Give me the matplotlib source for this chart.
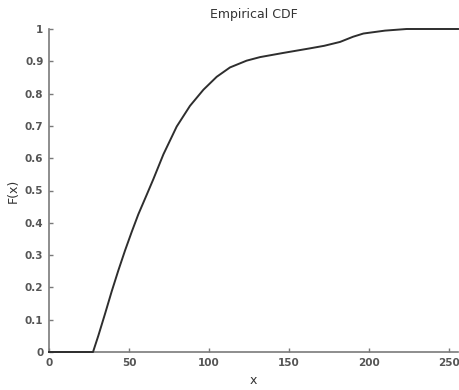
import numpy as np
import matplotlib
matplotlib.use('Agg')
import matplotlib.pyplot as plt

# points
x_vals = [0, 27.5, 30.8, 35.0, 39.2, 43.3, 47.5, 51.7, 55.8, 61.0, 65.2,
          71.5, 79.8, 88.1, 96.5, 104.8, 113.1, 123.5, 131.9, 146.5, 163.0,
          172.0, 181.9, 190.0, 196.5, 210.0, 223.5, 255.6]
f_vals = [0, 0.0, 0.050, 0.118, 0.188, 0.252, 0.314, 0.372, 0.426, 0.486, 0.535,
          0.612, 0.698, 0.762, 0.812, 0.852, 0.881, 0.902, 0.913, 0.926, 0.940,
          0.948, 0.960, 0.976, 0.986, 0.995, 1.0, 1.0]

x_ticks = [0, 50, 100, 150, 200, 250]
y_ticks = [0, 0.1, 0.2, 0.3, 0.4, 0.5, 0.6, 0.7, 0.8, 0.9, 1]
y_labels = ['0', '0.1', '0.2', '0.3', '0.4', '0.5', '0.6', '0.7', '0.8', '0.9', '1']

fig = plt.figure(figsize=(4.59, 3.9), dpi=100)
ax = fig.add_axes([49 / 459, 38 / 390, 409 / 459, 323 / 390])

ax.plot(x_vals, f_vals, color='#2e2e2e', linewidth=1.4, clip_on=False, zorder=3,
        solid_joinstyle='round')

ax.set_xlim(0, 255.6)
ax.set_ylim(0, 1)

for s in ['top', 'right']:
    ax.spines[s].set_visible(False)
for s in ['left', 'bottom']:
    ax.spines[s].set_color('#7a7a7a')
    ax.spines[s].set_linewidth(1.2)

ax.set_xticks(x_ticks)
ax.set_yticks(y_ticks)
ax.set_yticklabels(y_labels)
ax.tick_params(direction='in', length=3, width=1, color='#7a7a7a',
               labelsize=7.5, labelcolor='#555555', pad=4)
for lab in ax.get_xticklabels() + ax.get_yticklabels():
    lab.set_fontweight('bold')

ax.set_title('Empirical CDF', fontsize=9, color='#333333', pad=8)
ax.set_xlabel('x', fontsize=9, color='#333333', labelpad=5)
ax.set_ylabel('F(x)', fontsize=9, color='#333333', labelpad=4)

fig.savefig('out.png', dpi=100)
